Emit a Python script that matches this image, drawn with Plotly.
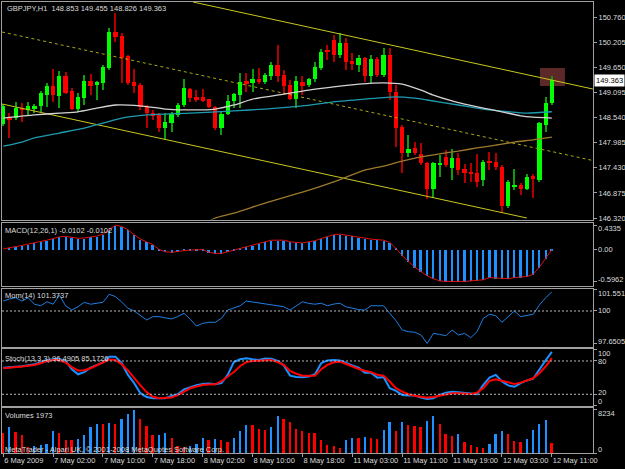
import plotly.graph_objects as go

# ---------------- data ----------------
HEADER = "GBPJPY,H1  148.853 149.455 148.826 149.363"
OPEN = [148.399, 148.554, 148.532, 148.753, 148.709, 148.731, 148.797, 149.041, 149.240, 149.018,
        149.461, 149.129, 148.731, 148.974, 149.350, 149.262, 149.306, 149.638, 150.434, 150.346,
        149.903, 149.328, 149.262, 148.775, 148.642, 148.598, 148.311, 148.421, 148.598, 148.819,
        149.173, 148.996, 148.996, 148.952, 148.775, 148.311, 148.620, 148.908, 149.041, 149.350,
        149.306, 149.395, 149.328, 149.461, 149.704, 149.483, 149.262, 148.952, 149.328, 149.262,
        149.395, 149.638, 150.036, 150.257, 149.925, 150.191, 149.793, 149.704, 149.859, 149.461,
        149.837, 149.483, 149.925, 149.107, 148.333, 147.758, 147.868, 147.736, 147.536, 146.961,
        147.514, 147.669, 147.426, 147.647, 147.404, 147.337, 147.315, 147.160, 147.581, 147.559,
        147.448, 146.585, 147.006, 147.050, 146.961, 147.249, 147.160, 148.377, 148.853]
HIGH = [148.842, 148.642, 148.886, 148.864, 148.886, 148.842, 149.129, 149.306, 149.616, 149.571,
        149.549, 149.195, 149.085, 149.483, 149.505, 149.350, 149.704, 150.523, 150.854, 150.412,
        149.925, 149.616, 149.306, 148.819, 148.709, 148.642, 148.642, 148.665, 148.864, 149.395,
        149.195, 149.151, 149.173, 148.952, 148.797, 148.665, 149.041, 149.085, 149.527, 149.527,
        149.616, 149.638, 149.527, 149.771, 150.147, 149.594, 149.372, 149.461, 149.461, 149.417,
        149.771, 150.058, 150.147, 150.368, 150.412, 150.301, 149.970, 149.925, 149.881, 149.925,
        149.881, 150.080, 150.080, 149.262, 148.377, 148.156, 148.001, 147.979, 147.559, 147.559,
        147.713, 147.824, 147.846, 147.758, 147.514, 147.536, 147.736, 147.603, 147.780, 147.758,
        147.492, 147.160, 147.404, 147.094, 147.293, 147.293, 148.443, 148.996, 149.455]
LOW = [148.355, 148.089, 148.488, 148.443, 148.598, 148.642, 148.665, 148.775, 148.886, 148.753,
       149.063, 148.709, 148.665, 148.819, 149.041, 148.930, 149.151, 149.594, 150.213, 149.306,
       149.262, 149.085, 148.709, 148.311, 148.488, 148.222, 148.045, 148.222, 148.554, 148.775,
       148.886, 148.886, 148.886, 148.753, 148.266, 148.156, 148.598, 148.753, 148.753, 149.107,
       149.107, 149.284, 149.284, 149.372, 149.328, 149.041, 148.930, 148.753, 149.041, 149.218,
       149.328, 149.594, 149.815, 149.771, 149.859, 149.594, 149.594, 149.549, 149.328, 149.306,
       149.439, 149.439, 148.930, 147.890, 147.315, 147.669, 147.713, 147.492, 146.740, 146.762,
       147.227, 147.448, 147.160, 147.271, 147.094, 147.116, 147.006, 147.028, 147.382, 147.382,
       146.430, 146.541, 146.939, 146.829, 146.939, 146.762, 147.116, 148.222, 148.826]
CLOSE = [148.797, 148.488, 148.753, 148.731, 148.797, 148.797, 149.085, 149.240, 149.041, 149.461,
         149.085, 148.731, 148.996, 149.350, 149.240, 149.328, 149.660, 150.434, 150.324, 149.859,
         149.306, 149.240, 148.775, 148.642, 148.576, 148.311, 148.443, 148.620, 148.819, 149.195,
         148.974, 148.952, 148.908, 148.775, 148.311, 148.620, 148.908, 149.063, 149.328, 149.306,
         149.395, 149.328, 149.483, 149.704, 149.461, 149.240, 148.952, 149.350, 149.240, 149.395,
         149.660, 149.992, 149.992, 149.925, 150.191, 149.771, 149.726, 149.859, 149.461, 149.837,
         149.483, 149.925, 149.107, 148.311, 147.758, 147.846, 147.758, 147.536, 146.961, 147.536,
         147.536, 147.492, 147.647, 147.382, 147.315, 147.315, 147.116, 147.559, 147.536, 147.448,
         146.585, 147.116, 147.050, 146.961, 147.227, 147.183, 148.421, 148.864, 149.363]

# moving averages (bar index, value) read at sample bars
MA_WHITE_BARS = [0, 5, 9, 12, 15, 18, 22, 26, 30, 34, 37, 40, 45, 49, 53, 57, 61, 64, 67, 69, 72, 74, 77, 80, 83, 85, 88]
MA_WHITE_VALS = [148.53, 148.60, 148.64, 148.67, 148.75, 148.82, 148.80, 148.73, 148.71, 148.73, 148.82, 148.95, 149.06,
                 149.15, 149.22, 149.28, 149.31, 149.28, 149.15, 149.04, 148.91, 148.84, 148.75, 148.67, 148.58, 148.55, 148.53]
MA_TEAL_BARS = [0, 3, 5, 9, 13, 16, 19, 23, 30, 37, 42, 48, 53, 58, 63, 66, 68, 73, 78, 81, 84, 88]
MA_TEAL_VALS = [147.91, 148.00, 148.09, 148.20, 148.31, 148.42, 148.53, 148.60, 148.64, 148.69, 148.73, 148.80,
                148.89, 148.95, 149.00, 148.97, 148.93, 148.82, 148.71, 148.67, 148.64, 148.67]
MA_BROWN_BARS = [33, 34, 37, 42, 48, 53, 58, 61, 64, 67, 70, 73, 76, 79, 82, 85, 88]
MA_BROWN_VALS = [146.25, 146.32, 146.43, 146.65, 146.89, 147.12, 147.38, 147.47, 147.58, 147.67, 147.74, 147.80,
                 147.87, 147.93, 148.00, 148.05, 148.11]

# channel trendlines: two anchor points each (bar, price)
CHAN_UPPER = [(30.44, 151.098), (94.58, 149.173)]
CHAN_LOWER = [(-0.19, 148.842), (83.99, 146.320)]
CHAN_MID = [(-0.19, 150.434), (94.58, 147.592)]
# highlight rectangle (bar0, bar1, price0, price1)
HIGHLIGHT = (86.1, 90.1, 149.24, 149.64)

MACD = [0.00, 0.017, 0.045, 0.065, 0.09, 0.11, 0.13, 0.16, 0.19, 0.22,
        0.23, 0.21, 0.195, 0.20, 0.22, 0.235, 0.27, 0.36, 0.4335, 0.41,
        0.35, 0.26, 0.18, 0.13, 0.08, -0.01, -0.05, -0.06, -0.04, -0.03,
        -0.02, -0.01, -0.01, -0.06, -0.08, -0.08, -0.05, -0.02, 0.01, 0.04,
        0.07, 0.10, 0.13, 0.16, 0.16, 0.16, 0.13, 0.12, 0.11, 0.13,
        0.15, 0.19, 0.23, 0.26, 0.27, 0.25, 0.24, 0.21, 0.20, 0.18,
        0.17, 0.16, 0.12, 0.01, -0.12, -0.22, -0.33, -0.41, -0.49, -0.54,
        -0.58, -0.59, -0.5962, -0.59, -0.59, -0.58, -0.58, -0.56, -0.52, -0.53,
        -0.53, -0.54, -0.52, -0.51, -0.50, -0.46, -0.33, -0.17, -0.0102]
MOM = [100.72, 100.87, 100.96, 100.72, 100.96, 100.49, 100.38, 100.67, 100.49, 101.16,
       100.38, 100.07, 100.31, 100.63, 100.49, 100.56, 100.63, 101.21, 101.04, 100.65,
       100.20, 100.00, 99.70, 99.35, 99.59, 99.59, 99.50, 99.42, 99.60, 99.83,
       99.40, 98.91, 99.10, 99.18, 99.18, 99.47, 100.07, 100.20, 100.38, 100.72,
       100.65, 100.55, 100.49, 100.40, 100.38, 100.31, 100.07, 100.40, 100.67, 100.55,
       100.49, 100.56, 100.38, 100.50, 100.56, 100.30, 100.20, 100.10, 100.07, 100.38,
       100.38, 100.38, 99.83, 99.30, 98.62, 98.50, 98.46, 98.26, 97.6505, 98.38,
       98.30, 98.21, 98.62, 98.26, 98.38, 98.07, 98.50, 99.47, 99.76, 99.66,
       99.18, 99.59, 100.00, 99.59, 99.70, 99.76, 100.43, 100.96, 101.3737]
STOCH_K = [68.0, 68.6, 69.2, 70.5, 72.5, 74.0, 78.0, 81.8, 83.0, 83.6,
           80.0, 65.0, 56.0, 60.0, 68.0, 73.0, 77.6, 87.8, 87.8, 76.0,
           55.0, 40.0, 22.0, 15.0, 12.8, 12.8, 12.8, 17.0, 20.0, 29.0,
           33.0, 36.5, 38.5, 39.5, 38.0, 40.0, 55.0, 78.0, 83.0, 84.8,
           83.0, 81.8, 84.5, 84.0, 80.0, 72.0, 53.6, 51.0, 50.6, 52.0,
           56.0, 76.0, 81.0, 82.0, 81.0, 75.8, 72.0, 68.0, 59.0, 59.0,
           50.0, 51.0, 31.0, 26.0, 18.8, 18.0, 17.6, 14.0, 11.6, 12.8,
           19.0, 23.0, 24.5, 23.6, 22.5, 21.5, 20.0, 37.0, 50.0, 55.0,
           43.0, 36.0, 33.5, 40.0, 45.0, 48.0, 65.0, 81.0, 96.4905]
STOCH_D = [66.8, 67.5, 68.5, 70.0, 71.5, 72.8, 76.0, 80.0, 81.8, 81.8,
           77.0, 69.0, 63.0, 63.5, 67.0, 72.0, 77.0, 82.5, 82.0, 74.0,
           63.0, 49.0, 36.0, 24.0, 15.5, 13.0, 13.5, 14.0, 18.5, 25.0,
           30.8, 34.0, 36.8, 37.5, 38.0, 43.5, 52.0, 60.0, 71.0, 78.0,
           80.0, 81.0, 81.8, 81.8, 78.0, 73.0, 62.0, 57.0, 53.6, 53.6,
           53.6, 65.0, 73.0, 77.6, 78.8, 74.5, 70.0, 65.5, 62.5, 60.0,
           55.0, 53.6, 43.0, 31.0, 24.8, 20.0, 17.5, 15.5, 14.0, 15.0,
           17.0, 20.0, 21.8, 21.8, 21.5, 20.5, 23.0, 31.0, 44.0, 47.0,
           44.5, 41.5, 38.5, 41.0, 45.0, 48.8, 58.0, 70.0, 85.1726]
PREV_VOLUME = 4300
VOLUME = [3988, 5064, 4115, 3482, 1266, 1393, 1583, 1772, 4241, 3988,
          2659, 2532, 2849, 3482, 5064, 5697, 5570, 5824, 5570, 6647,
          7596, 8234, 6647, 5191, 3482, 3608, 3988, 3038, 1393, 1266,
          1519, 1772, 3038, 2659, 2849, 2659, 2216, 3038, 4304, 5507,
          5381, 4748, 4558, 5064, 7090, 6647, 6014, 4748, 4304, 3988,
          3861, 2532, 1583, 1519, 1139, 2659, 3038, 2912, 3165, 3038,
          2849, 4558, 6014, 4241, 6014, 5381, 5191, 5064, 6203, 7090,
          5570, 3798, 3292, 3798, 2216, 1583, 1266, 1139, 1772, 3671,
          4304, 3671, 2405, 2216, 2849, 4558, 5697, 6330, 1973]

TIME_TICK_BARS = [0, 8, 16, 24, 32, 40, 48, 56, 64, 72, 80, 88]
TIME_LABELS = ["6 May 2009", "7 May 02:00", "7 May 10:00", "7 May 18:00", "8 May 02:00", "8 May 10:00",
               "8 May 18:00", "11 May 03:00", "11 May 11:00", "11 May 19:00", "12 May 03:00", "12 May 11:00"]
PRICE_TICKS = [146.320, 146.875, 147.430, 147.985, 148.540, 149.095, 149.650, 150.205, 150.760]
MACD_TICKS = [0.4335, 0.0, -0.5962]
MACD_TICKTEXT = ["0.4335", "0.00", "-0.5962"]
MOM_TICKS = [101.551, 100, 97.6505]
MOM_TICKTEXT = ["101.551", "100", "97.6505"]
STOCH_TICKS = [100, 80, 20, 0]
STOCH_TICKTEXT = ["100", "80", "20", "0"]
STOCH_LEVELS = [80, 20]
MOM_LEVEL = 100
VOL_TICKS = [8234, 0]
VOL_TICKTEXT = ["8234", "0"]

MACD_LABEL = "MACD(12,26,1) -0.0102 -0.0102"
MOM_LABEL = "Mom(14) 101.3737"
STOCH_LABEL = "Stoch(13,3,3) 96.4905 85.1726"
VOL_LABEL = "Volumes 1973"
COPYRIGHT = "MetaTrader - Alpari UK, \u00a9 2001-2008 MetaQuotes Software Corp."

# ---------------- geometry / style ----------------
W, H = 625, 469
ML, MR, MT, MB = 2, 32, 2, 16
PH = H - MT - MB
PW = W - ML - MR


def yp(py):
    return (H - MB - py) / PH


def xp(px):
    return (px - ML) / PW


FONT = "Liberation Sans, Arial, sans-serif"
FS = 7.5
TXT = "#dcdcdc"
BORDER = "#a0a0a0"
BULL_BODY, BULL_WICK = "#00ff00", "#109a10"
BEAR_BODY, BEAR_WICK = "#ff0000", "#b00000"
BLUE = "#1e90ff"
RED = "#ff0000"

n = len(CLOSE)
idx = list(range(n))
bull = [i for i in idx if CLOSE[i] >= OPEN[i]]
bear = [i for i in idx if CLOSE[i] < OPEN[i]]

fig = go.Figure()

# channel lines
for pts, dash, col in [(CHAN_UPPER, "solid", "#c8c81e"), (CHAN_LOWER, "solid", "#c8c81e"),
                       (CHAN_MID, "3px,3px", "#a8a812")]:
    fig.add_trace(go.Scatter(x=[p[0] for p in pts], y=[p[1] for p in pts], mode="lines",
                             line=dict(color=col, width=1, dash=dash), xaxis="x", yaxis="y",
                             hoverinfo="skip", showlegend=False))

# moving averages
for bx, vals, col in [(MA_BROWN_BARS, MA_BROWN_VALS, "#9c7a2c"),
                      (MA_TEAL_BARS, MA_TEAL_VALS, "#1f9bb0"),
                      (MA_WHITE_BARS, MA_WHITE_VALS, "#d4d4d4")]:
    fig.add_trace(go.Scatter(x=bx, y=vals, mode="lines", line=dict(color=col, width=1.3, shape="spline",
                                                                    smoothing=0.6),
                             xaxis="x", yaxis="y", hoverinfo="skip", showlegend=False))

# wicks (as thin bars), then bodies
for sel, col in [(bull, BULL_WICK), (bear, BEAR_WICK)]:
    fig.add_trace(go.Bar(x=sel, y=[HIGH[i] - LOW[i] for i in sel], base=[LOW[i] for i in sel],
                         width=0.17, marker=dict(color=col, line=dict(width=0)),
                         xaxis="x", yaxis="y", showlegend=False, hoverinfo="skip"))
for sel, col in [(bull, BULL_BODY), (bear, BEAR_BODY)]:
    fig.add_trace(go.Bar(x=sel, y=[max(abs(CLOSE[i] - OPEN[i]), 0.02) for i in sel],
                         base=[min(OPEN[i], CLOSE[i]) for i in sel],
                         width=0.68, marker=dict(color=col, line=dict(width=0)),
                         xaxis="x", yaxis="y", showlegend=False, hoverinfo="skip"))

# MACD
fig.add_trace(go.Bar(x=idx, y=MACD, width=0.32, marker=dict(color=BLUE, line=dict(width=0)),
                     xaxis="x2", yaxis="y2", showlegend=False, hoverinfo="skip"))
fig.add_trace(go.Scatter(x=idx, y=MACD, mode="lines", line=dict(color="#e01010", width=1),
                         xaxis="x2", yaxis="y2", showlegend=False, hoverinfo="skip"))

# Momentum
fig.add_trace(go.Scatter(x=idx, y=MOM, mode="lines", line=dict(color="#1f7fe0", width=1),
                         xaxis="x3", yaxis="y3", showlegend=False, hoverinfo="skip"))

# Stochastic
fig.add_trace(go.Scatter(x=idx, y=STOCH_K, mode="lines", line=dict(color=BLUE, width=2),
                         xaxis="x4", yaxis="y4", showlegend=False, hoverinfo="skip"))
fig.add_trace(go.Scatter(x=idx, y=STOCH_D, mode="lines", line=dict(color=RED, width=2),
                         xaxis="x4", yaxis="y4", showlegend=False, hoverinfo="skip"))

# Volumes, coloured by change vs previous bar
prev = [PREV_VOLUME] + VOLUME[:-1]
vcols = [BLUE if v > p else RED for v, p in zip(VOLUME, prev)]
fig.add_trace(go.Bar(x=idx, y=VOLUME, width=0.32, marker=dict(color=vcols, line=dict(width=0)),
                     xaxis="x5", yaxis="y5", showlegend=False, hoverinfo="skip"))

# ---------------- axes ----------------
domains = {
    "": [yp(219.5), 1.0],
    "2": [yp(286), yp(222.5)],
    "3": [yp(347), yp(288.5)],
    "4": [yp(405.5), yp(349)],
    "5": [0.0, yp(407.5)],
}
tickfont = dict(family=FONT, size=FS, color=TXT)
layout = {}
for k, dom in domains.items():
    xa = dict(domain=[0, 1], range=[-0.2, 94.6], showgrid=False, zeroline=False, showline=True,
              mirror=True, linecolor=BORDER, linewidth=1, anchor="y" + k, showticklabels=False,
              ticks="", fixedrange=True, automargin=False)
    if k:
        xa["matches"] = "x"
    layout["xaxis" + k] = xa
    layout["yaxis" + k] = dict(domain=dom, side="right", anchor="x" + k, showgrid=False, zeroline=False,
                               showline=True, mirror=True, linecolor=BORDER, linewidth=1,
                               ticks="outside", ticklen=3, tickcolor=BORDER, tickfont=tickfont,
                               fixedrange=True, automargin=False)

layout["xaxis5"].update(showticklabels=True, tickvals=TIME_TICK_BARS, ticktext=TIME_LABELS,
                        ticks="outside", ticklen=3, tickcolor=BORDER, tickfont=tickfont,
                        ticklabelposition="outside right", tickangle=0)
layout["yaxis"].update(range=[146.287, 151.098], tickvals=PRICE_TICKS,
                       ticktext=["%.3f" % v for v in PRICE_TICKS])
layout["yaxis2"].update(range=[-0.673, 0.482], tickvals=MACD_TICKS, showticklabels=False)
layout["yaxis3"].update(range=[97.39, 101.63], tickvals=MOM_TICKS, showticklabels=False)
layout["yaxis4"].update(range=[-0.2, 101.6], tickvals=STOCH_TICKS, showticklabels=False)
layout["yaxis5"].update(range=[0, 8645], tickvals=VOL_TICKS, showticklabels=False)

shapes = [dict(type="rect", xref="x", yref="y", x0=HIGHLIGHT[0], x1=HIGHLIGHT[1], y0=HIGHLIGHT[2],
               y1=HIGHLIGHT[3], fillcolor="#5c2828", line=dict(width=0), layer="below")]
shapes.append(dict(type="line", xref="x3 domain", yref="y3", x0=0, x1=1, y0=MOM_LEVEL, y1=MOM_LEVEL,
                   line=dict(color="#b8b8b8", width=1, dash="2px,2px")))
for lv in STOCH_LEVELS:
    shapes.append(dict(type="line", xref="x4 domain", yref="y4", x0=0, x1=1, y0=lv, y1=lv,
                       line=dict(color="#b8b8b8", width=1, dash="2px,2px")))


def label(text, px, py, color=TXT):
    return dict(text=text, xref="paper", yref="paper", x=xp(px), y=yp(py), xanchor="left",
                yanchor="middle", showarrow=False, font=dict(family=FONT, size=FS, color=color))


annotations = [
    label(HEADER, 5, 8),
    label(MACD_LABEL, 3, 230),
    label(MOM_LABEL, 3, 295),
    label(STOCH_LABEL, 3, 358),
    label(VOL_LABEL, 3, 415),
    label(COPYRIGHT, 3, 449),
    dict(text="%.3f" % CLOSE[-1], xref="paper", yref="y", x=1.0, y=CLOSE[-1], xanchor="left",
         yanchor="middle", xshift=1, showarrow=False, bgcolor="#ffffff", borderpad=1,
         font=dict(family=FONT, size=FS, color="#000000")),
]

# indicator-window scale labels: MT4 keeps the extreme labels inside their window
# (pixel rows where each label sits in the picture)
SCALE_LABEL_ROWS = [
    (MACD_TICKTEXT, [228.5, 250, 279.5]),
    (MOM_TICKTEXT, [293.5, 311, 341.5]),
    (STOCH_TICKTEXT, [353, 361.5, 392.5, 401]),
    (VOL_TICKTEXT, [413, 449.5]),
]
for texts, rows in SCALE_LABEL_ROWS:
    for t, r in zip(texts, rows):
        annotations.append(dict(text=t, xref="paper", yref="paper", x=1.0, y=yp(r), xanchor="left",
                                yanchor="middle", xshift=3, showarrow=False,
                                font=dict(family=FONT, size=FS, color=TXT)))

fig.update_layout(
    width=W, height=H, margin=dict(l=ML, r=MR, t=MT, b=MB, pad=0, autoexpand=False),
    paper_bgcolor="#000000", plot_bgcolor="#000000",
    barmode="overlay", bargap=0, showlegend=False,
    shapes=shapes, annotations=annotations,
    font=dict(family=FONT, size=FS, color=TXT),
    **layout,
)

fig.write_html("out.html")
